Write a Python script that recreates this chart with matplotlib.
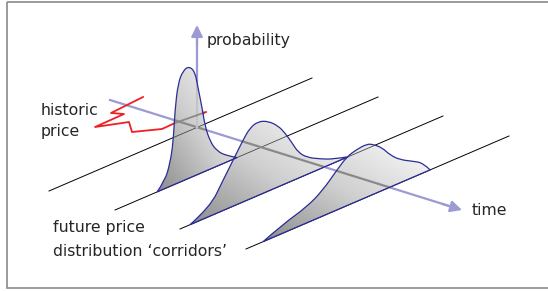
import numpy as np
import matplotlib
matplotlib.use('Agg')
import matplotlib.pyplot as plt
from matplotlib.patches import PathPatch, Rectangle
from matplotlib.path import Path
from matplotlib.transforms import Affine2D
from matplotlib.colors import LinearSegmentedColormap

# corridor lines (picture pixels): start point, and the shared direction vector
corridor_x0 = [49, 115, 180, 246]
corridor_y0 = [191, 210, 229, 249]
corridor_dir = (263, -113)

# distributions: which corridor, then (t along corridor, height in px)
dist_corridor = [1, 2, 3]
dist1_t = [0.160, 0.190, 0.209, 0.221, 0.228, 0.240, 0.259, 0.281, 0.304, 0.316,
           0.331, 0.342, 0.361, 0.388, 0.426, 0.464]
dist1_h = [0, 8, 23, 42, 74, 100, 110, 112, 104, 86, 65, 46, 28, 15, 6, 0]
dist2_t = [0.038, 0.114, 0.163, 0.202, 0.240, 0.266, 0.297, 0.335, 0.373, 0.399,
           0.426, 0.449, 0.483, 0.532, 0.582, 0.639]
dist2_h = [0, 9, 30, 46, 62, 71, 74, 70, 61, 51, 38, 26, 17, 10, 4, 0]
dist3_t = [0.065, 0.141, 0.232, 0.293, 0.346, 0.384, 0.422, 0.460, 0.483, 0.517,
           0.548, 0.586, 0.635, 0.673, 0.700]
dist3_h = [0, 9, 16, 26, 40, 49, 52, 53, 50, 43, 32, 23, 16, 10, 0]
dists = [(dist1_t, dist1_h), (dist2_t, dist2_h), (dist3_t, dist3_h)]

# axes and the historic price path
time_axis = [(110, 100), (462, 210)]
prob_axis = [(197, 127), (197, 25)]
hist_x = [143, 111, 124, 95, 129, 132, 162, 175, 206]
hist_y = [97, 113, 114, 127, 122, 132, 129, 123, 112]

labels = [
    ("probability", 207, 45),
    ("historic", 41, 115),
    ("price", 41, 136),
    ("future price", 53, 232),
    ("distribution \u2018corridors\u2019", 53, 256),
    ("time", 472, 215),
]

axis_col = '#9c9ad2'
blue = '#2b2d96'
red = '#ee2024'

fig = plt.figure(figsize=(5.48, 2.91), dpi=100)
ax = fig.add_axes([0, 0, 1, 1])
ax.set_xlim(0, 548)
ax.set_ylim(291, 0)
ax.axis('off')

ax.add_patch(Rectangle((7, 2), 560, 286, fill=False, edgecolor='#8a8a8a', lw=1.2))


def corridor_tr(k):
    a, b = corridor_dir
    return Affine2D().from_values(a, b, 0, -1, corridor_x0[k], corridor_y0[k]) + ax.transData


def smooth_path(t, h):
    # read points used as quadratic bezier control points, closed along the base
    p = np.column_stack([t, h]).astype(float)
    verts = [p[0]]
    codes = [Path.MOVETO]
    for i in range(1, len(p) - 1):
        end = p[i + 1] if i == len(p) - 2 else (p[i] + p[i + 1]) / 2
        verts += [p[i], end]
        codes += [Path.CURVE3, Path.CURVE3]
    verts += [p[0], p[0]]
    codes += [Path.LINETO, Path.CLOSEPOLY]
    return Path(np.array(verts), codes)


def draw_lines(color_line='k', color_time=axis_col, color_prob=axis_col, color_red=red,
               lw_line=0.7, z=1, clip=None):
    arts = []
    for k in range(4):
        arts += ax.plot([0, 1], [0, 0], color=color_line, lw=lw_line, transform=corridor_tr(k), zorder=z)
    (x0, y0), (x1, y1) = time_axis
    arts += ax.plot([x0, x1 - 8], [y0, y1 - 2.5], color=color_time, lw=1.6, zorder=z)
    (px, py), (qx, qy) = prob_axis
    arts += ax.plot([px, qx], [py, qy + 6], color=color_prob, lw=1.6, zorder=z)
    arts += ax.plot(hist_x, hist_y, color=color_red, lw=1.3, zorder=z)
    if clip is not None:
        for a in arts:
            a.set_clip_path(clip)
    return arts


draw_lines()

# arrow heads
ax.annotate('', xy=time_axis[1], xytext=(time_axis[1][0] - 20, time_axis[1][1] - 6.2),
            arrowprops=dict(arrowstyle='-|>', color=axis_col, lw=1.6, mutation_scale=17,
                            shrinkA=0, shrinkB=0), zorder=1)
ax.annotate('', xy=prob_axis[1], xytext=(prob_axis[1][0], prob_axis[1][1] + 20),
            arrowprops=dict(arrowstyle='-|>', color=axis_col, lw=1.6, mutation_scale=17,
                            shrinkA=0, shrinkB=0), zorder=1)
ax.annotate('', xy=(hist_x[-1], hist_y[-1]), xytext=(hist_x[-2], hist_y[-2]),
            arrowprops=dict(arrowstyle='-|>', color=red, lw=1.3, mutation_scale=9,
                            shrinkA=0, shrinkB=0), zorder=1)

cmap = LinearSegmentedColormap.from_list('shade', ['#8c8c8c', '#cfcfcf', '#fbfbfb'])

for (t, h), k in zip(dists, dist_corridor):
    tr = corridor_tr(k)
    path = smooth_path(t, h)
    poly = PathPatch(path, transform=tr, facecolor='none', edgecolor=blue, lw=0.9, zorder=4)
    ax.add_patch(poly)
    pts = ax.transData.inverted().transform(tr.transform(np.column_stack([t, h])))
    xmin, xmax = pts[:, 0].min(), pts[:, 0].max()
    ymin, ymax = pts[:, 1].min(), pts[:, 1].max()
    gx, gy = np.meshgrid(np.linspace(0, 1, 200), np.linspace(0, 1, 200))
    g = (gx + 1 - gy) / 2
    im = ax.imshow(g, cmap=cmap, extent=(xmin, xmax, ymax, ymin), origin='upper',
                   aspect='auto', zorder=2, vmin=0, vmax=1)
    im.set_clip_path(poly)
    draw_lines(color_line='#3c3c3c', color_time='#8a8a8a', color_prob='#c4c4c4',
               color_red='#8a8a8a', lw_line=0.55, z=3, clip=poly)

ax.set_xlim(0, 548)
ax.set_ylim(291, 0)

for txt, x, y in labels:
    ax.text(x, y, txt, fontsize=11.3, color='#262626', ha='left', va='baseline', zorder=5)

fig.savefig('out.png', dpi=100)
